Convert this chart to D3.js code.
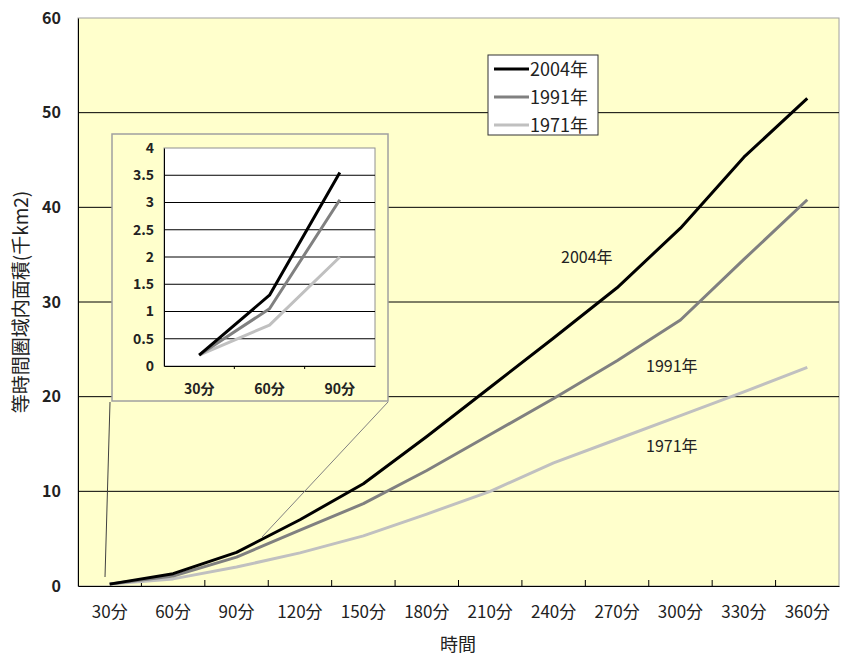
<!DOCTYPE html>
<html><head><meta charset="utf-8">
<script src="https://cdn.jsdelivr.net/npm/d3@7"></script>
<style>
body{margin:0;background:#fff;}
text{font-family:"Noto Sans CJK JP","Noto Sans",sans-serif;}
</style></head>
<body>
<svg id="c" width="842" height="657"></svg>
<script>
const categories = ["30分","60分","90分","120分","150分","180分","210分","240分","270分","300分","330分","360分"];
const series2004 = [0.2,1.3,3.55,7.0,10.8,15.8,21.0,26.2,31.5,37.8,45.3,51.5];
const series1991 = [0.2,1.05,3.05,5.9,8.7,12.2,16.0,19.8,23.8,28.1,34.5,40.8];
const series1971 = [0.2,0.75,2.0,3.5,5.3,7.6,10.0,13.0,15.5,18.0,20.5,23.1];
const seriesNames = ["2004年","1991年","1971年"];
const seriesColors = ["#000000","#808080","#c0c0c0"];
const yTicks = [0,10,20,30,40,50,60];
const insetCategories = ["30分","60分","90分"];
const insetTicks = [0,0.5,1,1.5,2,2.5,3,3.5,4];
const yTitle = "等時間圏域内面積(千km2)";
const xTitle = "時間";

const allSeries = [series2004, series1991, series1971];
const svg = d3.select("#c");

// main plot
const L=78,R=839,T=18,B=586;
const x = d3.scaleBand().domain(categories).range([L,R]).padding(0);
const y = d3.scaleLinear().domain([0,60]).range([B,T]);
const cx = c => x(c)+x.bandwidth()/2;

svg.append("rect").attr("x",L).attr("y",T).attr("width",R-L).attr("height",B-T)
  .attr("fill","#ffffcc").attr("stroke","#a0a0a0").attr("stroke-width",1);

// gridlines
svg.append("g").selectAll("line").data(yTicks.filter(d=>d>0&&d<60)).join("line")
  .attr("x1",L).attr("x2",R).attr("y1",d=>y(d)).attr("y2",d=>y(d))
  .attr("stroke","#000").attr("stroke-width",1);

// y axis
const yAx = svg.append("g").attr("transform",`translate(${L},0)`)
  .call(d3.axisLeft(y).tickValues(yTicks).tickSize(0).tickPadding(17));
yAx.select(".domain").attr("stroke","#000");
yAx.selectAll("text").attr("font-size",16).attr("fill","#222").attr("font-family","Liberation Sans, Arial, sans-serif").attr("font-weight","bold");

// x axis
const xAx = svg.append("g").attr("transform",`translate(0,${B})`)
  .call(d3.axisBottom(x).tickSize(0).tickPadding(20));
xAx.select(".domain").attr("stroke","#000");
xAx.selectAll("text").attr("font-size",17).attr("fill","#222");
svg.append("g").selectAll("line").data(categories.slice(1)).join("line")
  .attr("x1",d=>x(d)).attr("x2",d=>x(d)).attr("y1",B).attr("y2",B-6)
  .attr("stroke","#000");

// lines
const line = d3.line().x((d,i)=>cx(categories[i])).y(d=>y(d));
[2,1,0].forEach(k=>{
  svg.append("path").datum(allSeries[k]).attr("d",line)
    .attr("fill","none").attr("stroke",seriesColors[k]).attr("stroke-width",3).attr("stroke-linejoin","round");
});

// series labels
const labelPos = [[561,263],[646,372],[646,452]];
seriesNames.forEach((n,i)=>{
  svg.append("text").attr("x",labelPos[i][0]).attr("y",labelPos[i][1]).attr("font-size",16).attr("fill","#222").text(n);
});

// axis titles
svg.append("text").attr("transform","translate(28,302) rotate(-90)").attr("text-anchor","middle")
  .attr("font-size",19).attr("fill","#222").text(yTitle);
svg.append("text").attr("x",458).attr("y",651).attr("text-anchor","middle").attr("font-size",18).attr("fill","#222").text(xTitle);

// connector lines
svg.append("line").attr("x1",105).attr("y1",577).attr("x2",110).attr("y2",402).attr("stroke","#404040");
svg.append("line").attr("x1",262).attr("y1",537).attr("x2",388).attr("y2",402).attr("stroke","#808080");

// inset
const iL=164,iR=375,iT=148,iB=366;
svg.append("rect").attr("x",112).attr("y",134).attr("width",276).attr("height",267)
  .attr("fill","#ffffcc").attr("stroke","#a0a0a0").attr("stroke-width",1.5);
const ix = d3.scaleBand().domain(insetCategories).range([iL,iR]).padding(0);
const iy = d3.scaleLinear().domain([0,4]).range([iB,iT]);
svg.append("rect").attr("x",iL).attr("y",iT).attr("width",iR-iL).attr("height",iB-iT)
  .attr("fill","#fff").attr("stroke","#909090");
svg.append("g").selectAll("line").data(insetTicks.filter(d=>d>0&&d<4)).join("line")
  .attr("x1",iL).attr("x2",iR).attr("y1",d=>iy(d)).attr("y2",d=>iy(d)).attr("stroke","#000");
const iyAx = svg.append("g").attr("transform",`translate(${iL},0)`)
  .call(d3.axisLeft(iy).tickValues(insetTicks).tickSize(0).tickPadding(10).tickFormat(d=>String(d)));
iyAx.select(".domain").attr("stroke","#000");
iyAx.selectAll("text").attr("font-size",14).attr("fill","#222").attr("font-family","Liberation Sans, Arial, sans-serif").attr("font-weight","bold");
const ixAx = svg.append("g").attr("transform",`translate(0,${iB})`)
  .call(d3.axisBottom(ix).tickSize(0).tickPadding(18));
ixAx.select(".domain").attr("stroke","#000");
ixAx.selectAll("text").attr("font-size",14).attr("fill","#222").attr("font-weight","bold");
svg.append("g").selectAll("line").data(insetCategories.slice(1)).join("line")
  .attr("x1",d=>ix(d)).attr("x2",d=>ix(d)).attr("y1",iB).attr("y2",iB+3).attr("stroke","#000");
const iline = d3.line().x((d,i)=>ix(insetCategories[i])+ix.bandwidth()/2).y(d=>iy(d));
[2,1,0].forEach(k=>{
  svg.append("path").datum(allSeries[k].slice(0,3)).attr("d",iline)
    .attr("fill","none").attr("stroke",seriesColors[k]).attr("stroke-width",3).attr("stroke-linejoin","round");
});

// legend
svg.append("rect").attr("x",488).attr("y",55).attr("width",110).attr("height",80)
  .attr("fill","#fff").attr("stroke","#333").attr("stroke-width",1);
seriesNames.forEach((n,i)=>{
  const ly = 69 + i*28;
  svg.append("line").attr("x1",494).attr("x2",529).attr("y1",ly).attr("y2",ly)
    .attr("stroke",seriesColors[i]).attr("stroke-width",3);
  svg.append("text").attr("x",530).attr("y",ly+7).attr("font-size",18).attr("fill","#222").text(n);
});
</script>
</body></html>
